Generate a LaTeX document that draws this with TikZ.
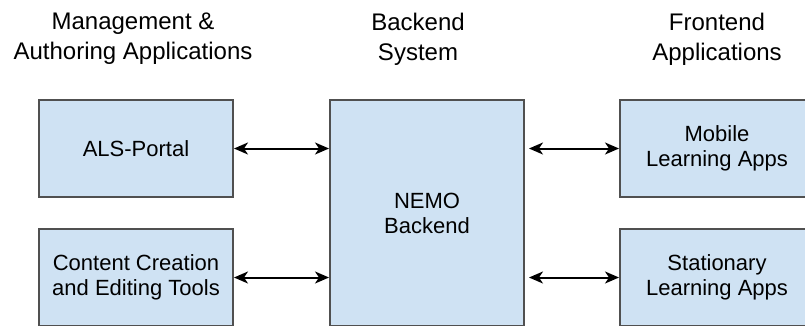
\documentclass[tikz,border=0pt]{standalone}
\usepackage{fontspec}
\setmainfont{Liberation Sans}
\usepackage{xcolor}
\definecolor{boxblue}{RGB}{207,226,243}
\definecolor{boxline}{RGB}{80,80,80}
\usetikzlibrary{positioning,arrows.meta}

\begin{document}
\begin{tikzpicture}[x=1pt,y=-1pt,
	block/.style={
		draw=boxline,         % dark grey border
		line width=2pt,       % border thickness
		fill=boxblue,         % light blue fill
		text=black,           % black text
		rectangle,            % shape
		minimum width=194pt,
		inner sep=0pt,
		align=center,
		font=\fontsize{22}{25}\selectfont
	},
	heading/.style={
		anchor=north,
		inner sep=0pt,
		align=center,
		font=\fontsize{24}{30}\selectfont
	},
	link/.style={
		{Stealth[length=14pt,width=12pt,inset=4pt]}-{Stealth[length=14pt,width=12pt,inset=4pt]},
		line width=2pt
	}]
	\clip (0,0) rectangle (805,325);

	% column titles
	\node[heading] (mgmt) at (133,13) {Management \&\\Authoring Applications};
	\node[heading] (back) at (418,13) {Backend\\System};
	\node[heading] (front) at (717,13) {Frontend\\Applications};

	% boxes
	\node[block, minimum height=97pt] (als) at (136,148.5) {ALS-Portal};
	\node[block, minimum height=97pt] (tools) at (136,277.5) {Content Creation\\and Editing Tools};
	\node[block, minimum height=226pt] (nemo) at (427,213) {NEMO\\Backend};
	\node[block, minimum height=97pt] (mobile) at (717,148.5) {Mobile\\Learning Apps};
	\node[block, minimum height=97pt] (desk) at (717,277.5) {Stationary\\Learning Apps};

	% connections to the backend
	\draw[link] (als.east) -- (als.east -| nemo.west);
	\draw[link] (tools.east) -- (tools.east -| nemo.west);
	\draw[link, shorten <=4pt] (mobile.west -| nemo.east) -- (mobile.west);
	\draw[link, shorten <=4pt] (desk.west -| nemo.east) -- (desk.west);
\end{tikzpicture}
\end{document}
